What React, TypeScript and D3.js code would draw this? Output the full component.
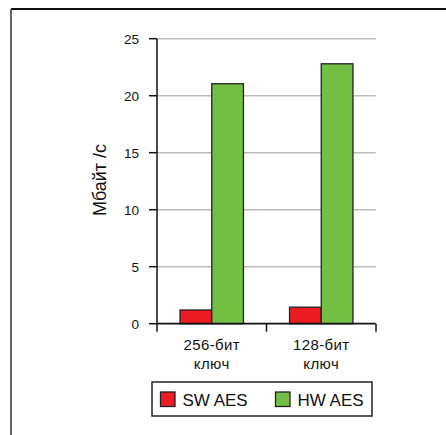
import React from "react";
import * as d3 from "d3";

const categories = ["256-бит|ключ", "128-бит|ключ"];
const seriesNames = ["SW AES", "HW AES"];
const swValues = [1.2, 1.45];
const hwValues = [21.05, 22.8];
const yTicks = [0, 5, 10, 15, 20, 25];
const colors = ["#ED1C24", "#72BF44"];

const FONT = "'Liberation Sans', Arial, sans-serif";

export default function App() {
  const W = 446, H = 435;
  const x0 = d3.scaleBand<string>().domain(categories).range([157, 376]).paddingInner(0).paddingOuter(0);
  const x1 = d3.scaleBand<string>().domain(seriesNames).range([0, x0.bandwidth()]).paddingInner(0).paddingOuter(0.727);
  const y = d3.scaleLinear().domain([0, 25]).range([323.7, 38.7]);
  const values = [swValues, hwValues];

  const axisX = 157;
  const gridRight = 375.7;

  return (
    <svg width={W} height={H} style={{ position: "absolute", left: 0, top: 0, background: "#fff" }}>
      {/* frame */}
      <line x1={11} y1={9} x2={W} y2={9} stroke="#111" strokeWidth={1.8} />
      <line x1={11} y1={9} x2={11} y2={H} stroke="#555" strokeWidth={1.8} />

      {/* gridlines */}
      {yTicks.filter(t => t > 0).map(t => (
        <line key={"g" + t} x1={axisX} x2={gridRight} y1={y(t)} y2={y(t)} stroke="#bdbdbd" strokeWidth={1.5} />
      ))}

      {/* bars */}
      {categories.map((c, ci) => (
        <g key={c}>
          {seriesNames.map((s, si) => (
            <rect key={s}
              x={(x0(c) as number) + (x1(s) as number)}
              y={y(values[si][ci])}
              width={x1.bandwidth()}
              height={y(0) - y(values[si][ci])}
              fill={colors[si]} stroke="#222" strokeWidth={1.3} />
          ))}
        </g>
      ))}

      {/* y axis */}
      <line x1={axisX} x2={axisX} y1={y(25)} y2={y(0)} stroke="#111" strokeWidth={1.5} />
      {yTicks.map(t => (
        <g key={"t" + t}>
          <line x1={149} x2={axisX} y1={y(t)} y2={y(t)} stroke="#111" strokeWidth={1.5} />
          <text x={139} y={y(t) + 4.8} textAnchor="end" fontFamily={FONT} fontSize={13.5} fill="#111">{t}</text>
        </g>
      ))}

      {/* x axis */}
      <line x1={axisX} x2={gridRight} y1={y(0)} y2={y(0)} stroke="#111" strokeWidth={1.8} />
      {[...categories.map(c => x0(c) as number), (x0(categories[1]) as number) + x0.bandwidth()].map((xv, i) => (
        <line key={"xt" + i} x1={xv} x2={xv} y1={y(0)} y2={331.7} stroke="#111" strokeWidth={1.5} />
      ))}
      {categories.map(c => {
        const cx = (x0(c) as number) + x0.bandwidth() / 2;
        const [l1, l2] = c.split("|");
        return (
          <text key={"cl" + c} x={cx} textAnchor="middle" fontFamily={FONT} fontSize={15} letterSpacing={0.4} fill="#111">
            <tspan x={cx} y={349.5}>{l1}</tspan>
            <tspan x={cx} y={369.3}>{l2}</tspan>
          </text>
        );
      })}

      {/* y title */}
      <text transform="translate(105.5,180) rotate(-90)" textAnchor="middle" fontFamily={FONT} fontSize={18} fill="#111">Мбайт /с</text>

      {/* legend */}
      <rect x={152} y={382} width={220} height={34} fill="#fff" stroke="#222" strokeWidth={1.5} />
      {seriesNames.map((s, i) => {
        const lx = i === 0 ? 160.5 : 275.5;
        return (
          <g key={"lg" + s}>
            <rect x={lx} y={392} width={14.5} height={14.5} fill={colors[i]} stroke="#222" strokeWidth={1.3} />
            <text x={lx + 22} y={405.5} fontFamily={FONT} fontSize={17} fill="#111">{s}</text>
          </g>
        );
      })}
    </svg>
  );
}
